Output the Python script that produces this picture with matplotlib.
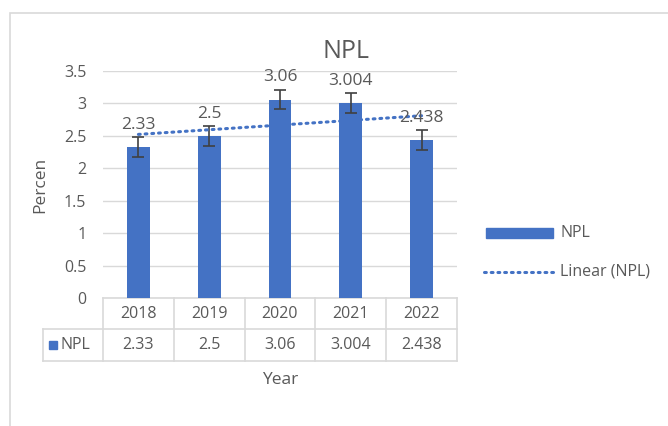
import matplotlib.pyplot as plt
import numpy as np
from matplotlib.patches import Rectangle
from matplotlib.lines import Line2D

# data
years = ["2018", "2019", "2020", "2021", "2022"]
npl = [2.33, 2.5, 3.06, 3.004, 2.438]
npl_labels = ["2.33", "2.5", "3.06", "3.004", "2.438"]

plt.rcParams['font.family'] = ['Open Sans', 'DejaVu Sans']
txt = '#595959'
grid = '#D9D9D9'
blue = '#4472C4'

W, H = 668, 426
fig = plt.figure(figsize=(W / 100, H / 100), dpi=100)

def fx(px):
    return px / W

def fy(py):
    return 1 - py / H

# outer chart border
fig.patches.append(Rectangle((fx(10), fy(440)), fx(700), fy(13) - fy(440),
                             transform=fig.transFigure, fill=False,
                             edgecolor=grid, lw=1.2))

left, right, top, bottom = 103, 457, 71, 298
ax = fig.add_axes([fx(left), fy(bottom), fx(right - left), fy(top) - fy(bottom)])

x = np.arange(len(years))
y = np.array(npl)
# standard error, like Excel
err = y.std(ddof=1) / np.sqrt(len(y))

ax.bar(x, y, width=0.32, color=blue, zorder=3)
ax.errorbar(x, y, yerr=err, fmt='none', ecolor='#404040', elinewidth=1.2,
            capsize=4, capthick=1.2, zorder=4)

# linear trend
k, b = np.polyfit(x, y, 1)
ax.plot(x, k * x + b, color=blue, lw=2.2, linestyle=(0, (0.6, 1.6)),
        dash_capstyle='round', zorder=5)

for xi, yi, lab in zip(x, y, npl_labels):
    ax.annotate(lab, (xi, yi), xytext=(0, 16), textcoords='offset points',
                ha='center', va='center', fontsize=12.5, color=txt, zorder=6)

ax.set_xlim(-0.5, len(years) - 0.5)
ax.set_ylim(0, 3.5)
ax.set_yticks(np.arange(0, 3.51, 0.5))
ax.set_yticklabels(["0", "0.5", "1", "1.5", "2", "2.5", "3", "3.5"])
ax.set_xticks([])
ax.grid(axis='y', color=grid, lw=1, zorder=0)
for s in ax.spines.values():
    s.set_visible(False)
ax.tick_params(axis='y', length=0, labelsize=11.5, labelcolor=txt, pad=12)

# data table under the axis
aw = right - left
ah = bottom - top
def axx(px):
    return (px - left) / aw

def axy(py):
    return (bottom - py) / ah

r1, r2, r3 = 298, 329, 361
col_edges = [left + i * aw / len(years) for i in range(len(years) + 1)]
kw = dict(transform=ax.transAxes, color=grid, lw=1.2, clip_on=False)
ax.add_line(Line2D([0, 1], [axy(r1), axy(r1)], **kw))
ax.add_line(Line2D([axx(43), 1], [axy(r2), axy(r2)], **kw))
ax.add_line(Line2D([axx(43), 1], [axy(r3), axy(r3)], **kw))
ax.add_line(Line2D([axx(43), axx(43)], [axy(r2), axy(r3)], **kw))
for ce in col_edges:
    ax.add_line(Line2D([axx(ce), axx(ce)], [axy(r1), axy(r3)], **kw))

for i in range(len(years)):
    cx = axx((col_edges[i] + col_edges[i + 1]) / 2)
    ax.text(cx, axy((r1 + r2) / 2), years[i], transform=ax.transAxes,
            ha='center', va='center', fontsize=11.5, color=txt)
    ax.text(cx, axy((r2 + r3) / 2), npl_labels[i], transform=ax.transAxes,
            ha='center', va='center', fontsize=11.5, color=txt)

ax.add_patch(Rectangle((axx(49), axy(349)), axx(57) - axx(49), axy(341) - axy(349),
                       transform=ax.transAxes, color=blue, clip_on=False))
ax.text(axx(61), axy((r2 + r3) / 2), "NPL", transform=ax.transAxes,
        ha='left', va='center', fontsize=11.5, color=txt)

# titles
fig.text(fx(346), fy(52), "NPL", ha='center', va='center', fontsize=18, color=txt)
fig.text(fx(40), fy(185), "Percen", ha='center', va='center', rotation=90,
         fontsize=12.5, color=txt)
fig.text(fx(280), fy(380), "Year", ha='center', va='center', fontsize=12.5, color=txt)

# legend
fig.patches.append(Rectangle((fx(486), fy(238)), fx(553) - fx(486), fy(228) - fy(238),
                             transform=fig.transFigure, color=blue))
fig.text(fx(560), fy(233), "NPL", ha='left', va='center', fontsize=11.5, color=txt)
fig.lines.append(Line2D([fx(484), fx(553)], [fy(272), fy(272)], transform=fig.transFigure,
                        color=blue, lw=2.2, linestyle=(0, (0.6, 1.6)),
                        dash_capstyle='round'))
fig.text(fx(560), fy(272), "Linear (NPL)", ha='left', va='center', fontsize=11.5, color=txt)

fig.savefig("out.png", dpi=100, facecolor='white')
